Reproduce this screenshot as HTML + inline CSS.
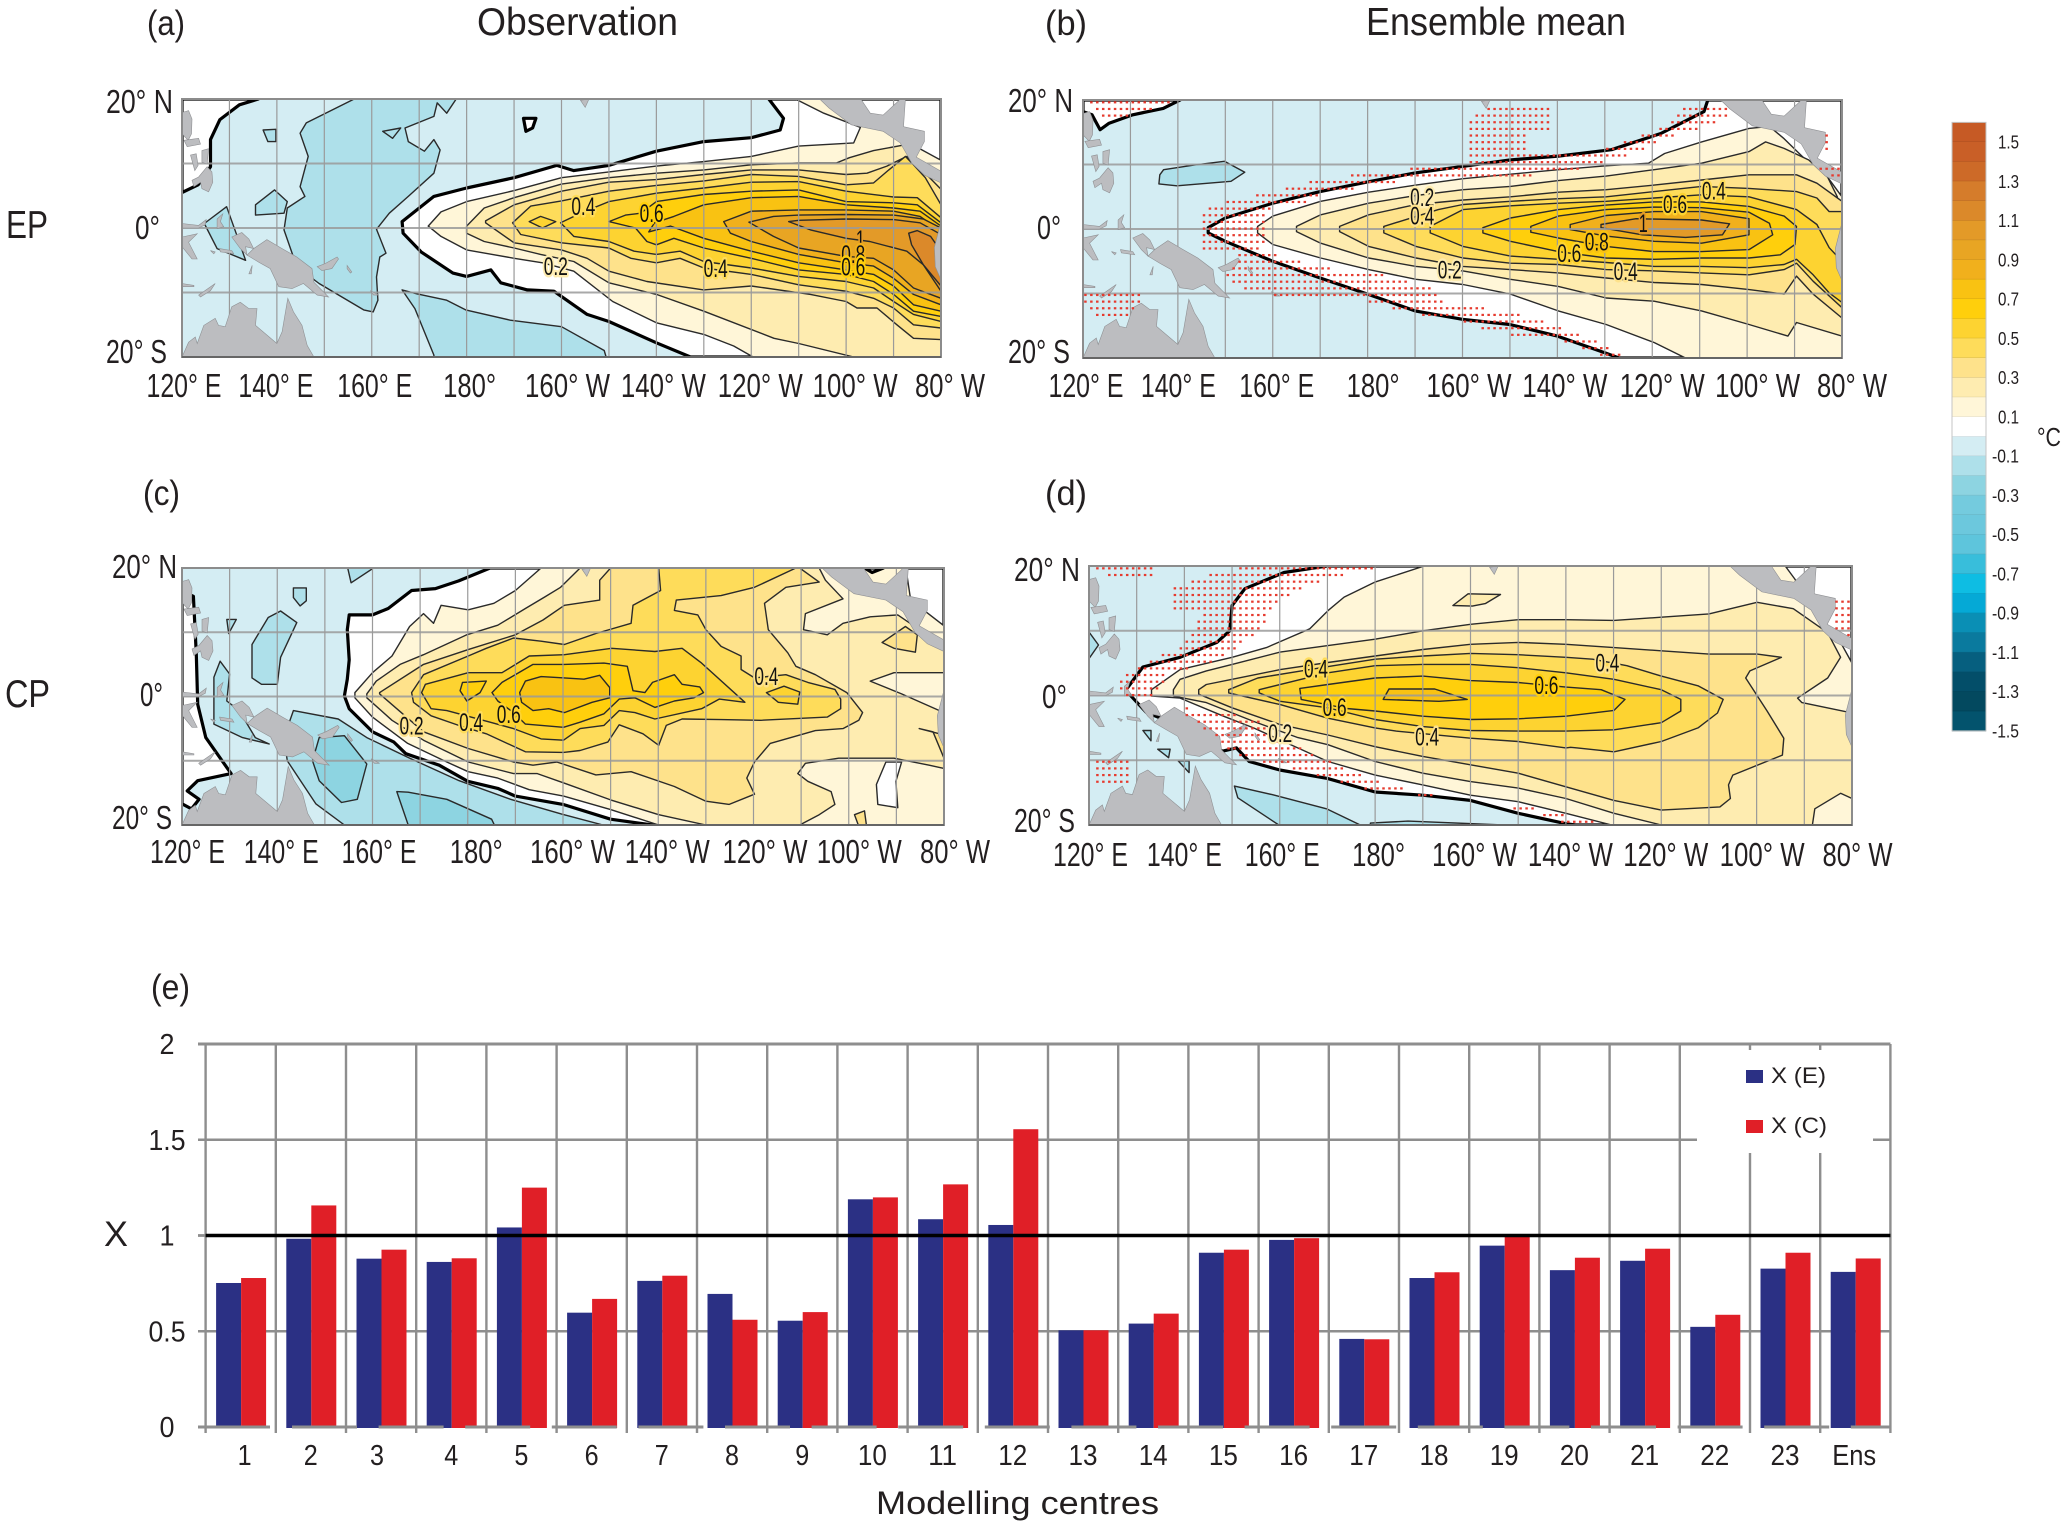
<!DOCTYPE html>
<html lang="en">
<head>
<meta charset="utf-8">
<title>EP and CP SST composites</title>
<style>
html,body{margin:0;padding:0;background:#fff}
svg{display:block}
text{font-family:"Liberation Sans",sans-serif;fill:#231f20}
</style>
</head>
<body>
<svg id="fig" xmlns="http://www.w3.org/2000/svg" width="2067" height="1526" viewBox="0 0 2067 1526">
<rect width="2067" height="1526" fill="#fff"/>
<text x="147" y="35" font-size="35" textLength="38" lengthAdjust="spacingAndGlyphs">(a)</text>
<text x="1045" y="35" font-size="35" textLength="42" lengthAdjust="spacingAndGlyphs">(b)</text>
<text x="143" y="505" font-size="35" textLength="37" lengthAdjust="spacingAndGlyphs">(c)</text>
<text x="1045" y="505" font-size="35" textLength="42" lengthAdjust="spacingAndGlyphs">(d)</text>
<text x="151" y="999" font-size="35" textLength="39" lengthAdjust="spacingAndGlyphs">(e)</text>
<text x="477" y="35" font-size="39" textLength="201" lengthAdjust="spacingAndGlyphs">Observation</text>
<text x="1366" y="35" font-size="39" textLength="260" lengthAdjust="spacingAndGlyphs">Ensemble mean</text>
<text x="6" y="238" font-size="39" textLength="42" lengthAdjust="spacingAndGlyphs">EP</text>
<text x="5" y="707" font-size="39" textLength="45" lengthAdjust="spacingAndGlyphs">CP</text>
<text x="2037" y="446" font-size="26" textLength="24" lengthAdjust="spacingAndGlyphs">°C</text>
<text x="104" y="1246" font-size="35" textLength="24" lengthAdjust="spacingAndGlyphs">X</text>
<text x="876" y="1514" font-size="32" textLength="283" lengthAdjust="spacingAndGlyphs">Modelling centres</text>
<g id="maps"></g>
<g id="bar"></g>
<g id="cbar"></g>
</svg>
<script>
/* ---------- colour scale ---------- */
const bandLower=[1.5,1.4,1.3,1.2,1.1,1.0,0.9,0.8,0.7,0.6,0.5,0.4,0.3,0.2,0.1,0,-0.1,-0.2,-0.3,-0.4,-0.5,-0.6,-0.7,-0.8,-0.9,-1.0,-1.1,-1.2,-1.3,-1.4,-1.5];
const bandColors=['#c65a25','#c95f27','#cd6a28','#d57c2b','#db892a','#e39a28','#e8a523','#f1b01c','#f9c212','#ffcf0c','#fdd331','#fedc5a','#fee28b','#feecb0','#fff6d8','#ffffff','#d4edf3','#aee0ea','#8dd4e1','#74cbde','#6cc8dd','#5ec5dc','#38bedb','#0ebde3','#05a9d6','#0a8fb5','#0a7a9e','#065f7f','#034e69','#03495f','#03536d'];
const colorbarTicks=['1.5','1.3','1.1','0.9','0.7','0.5','0.3','0.1','-0.1','-0.3','-0.5','-0.7','-0.9','-1.1','-1.3','-1.5'];

/* ---------- land (lon, lat) ---------- */
const landNewGuinea=[[135.1,-3.2],[137.9,-1.8],[141.1,-3.2],[144.2,-4.5],[147.4,-6.3],[147.8,-8.4],[150.9,-10.7],[148.5,-10.4],[145.6,-8.6],[143.2,-9.4],[140.4,-9.1],[138.6,-6.3],[136.2,-5.3],[133.7,-4.2]];
const landBirdsHead=[[130.5,-1.4],[132.6,-0.7],[134.1,-1.7],[135.1,-3.2],[133.4,-2.9],[133.7,-4.2],[132.3,-3.2]];
const landAustralia=[[120,-20],[121.4,-17.7],[122.8,-16.9],[123.2,-17.9],[124.6,-15.1],[127,-14],[127.7,-15.1],[129.1,-15.3],[130.5,-12.2],[132.3,-11.5],[134.1,-12.5],[135.8,-12.5],[135.5,-15.1],[140,-17.9],[141.1,-16.1],[142.3,-10.9],[143.5,-13],[145.3,-15.1],[146.4,-18.2],[147.8,-20]];
const landLuzon=[[120,17.9],[121.4,18.2],[122.1,16.9],[122,14.6],[121.3,13.6],[120,14.6]];
const landMindoro=[[120.4,13.6],[123.5,13.9],[123.9,13],[121.1,12.6]];
const landPanay=[[121.8,11.3],[123,11.5],[123.4,9.7],[122.7,8.9]];
const landSamar=[[124.2,12],[125.6,12.3],[125.3,9.9],[124.2,10.2]];
const landMindanao=[[122.1,7.4],[123.5,7.9],[125.3,9.5],[126.3,8.7],[126.5,7.1],[125.6,5.6],[124.2,6.1],[123.9,7.1],[122.5,6.4]];
const landSulawesiNorth=[[120,0.7],[123.5,0.4],[125.1,1.3],[124.9,0.5],[123.5,0],[120,0]];
const landSulawesiSouth=[[120,-1.4],[123.2,-0.9],[121.4,-2.2],[123.2,-4.8],[122.1,-4.8],[120,-2.9]];
const landHalmahera=[[127.4,1.4],[128.6,2.2],[128.1,1],[128.8,0.2],[127.4,-0.1]];
const landCeram=[[127.9,-3.2],[130.5,-3.5],[130.9,-4],[128.1,-3.7]];
const landBuru=[[126,-3.5],[127,-3.7],[126.7,-4]];
const landNewBritain=[[148.5,-6],[150.2,-5.5],[152.7,-4.5],[153,-4.8],[151.6,-6.3],[149.5,-6.6]];
const landTimor=[[123.5,-10.4],[127,-8.6],[126,-9.7],[123.9,-10.7]];
const landFlores=[[120,-8.6],[122.5,-8.9],[122.5,-9.1],[120,-9.1]];
const landAru=[[134.1,-7.1],[134.8,-5.8],[134.6,-7.1]];
const landBougainville=[[154.8,-5.8],[155.8,-6.8],[155.5,-7],[154.8,-6.3]];
const landGuadalcanal=[[159.7,-9.7],[161.5,-10.4],[160.4,-10.4]];
const landHawaii=[[204,19.8],[205.8,20],[205,18.7]];
const landCentralAmerica=[[254.4,20],[263.1,20],[265.1,17.8],[267.8,17.5],[270.9,19.6],[271.4,20],[272.5,20],[272.1,15.7],[276.5,15],[276.5,13.4],[274.8,11],[280,8.8],[280,7],[276.5,8.2],[273.9,10],[271.4,13.2],[267.8,15],[261.1,16],[256.4,18.6]];
const landSouthAmerica=[[280,1],[278.6,-3],[278.8,-6],[280,-8]];
const landMasses=[landNewGuinea,landBirdsHead,landAustralia,landLuzon,landMindoro,landPanay,landSamar,landMindanao,landSulawesiNorth,landSulawesiSouth,landHalmahera,landCeram,landBuru,landNewBritain,landTimor,landFlores,landAru,landBougainville,landGuadalcanal,landHawaii,landCentralAmerica,landSouthAmerica];

/* ---------- panel (a) contours (lon, lat) ---------- */
const a_blue1=[[156.3,20],[146.2,16.3],[144.9,14.7],[146.6,11.1],[144.9,6.4],[145.9,4.9],[142.2,3.1],[141.5,-0.3],[144.2,-6],[148.9,-8.6],[158.3,-12.7],[160.3,-13],[161.3,-11.2],[161,-7.6],[161.7,-4.5],[163,-3.9],[161,-0.2],[163.7,2.3],[167.7,4.9],[173.1,8.5],[174.4,12.1],[173.1,13.7],[171.1,11.9],[167.7,13.4],[167,15.5],[173.1,17.3],[173.8,19.4],[175.8,17.8],[177.8,20]];
const a_blue2=[[135.5,3.6],[139.5,5.9],[142.2,4.1],[141.5,2.3],[135.5,2]];
const a_blue3=[[124.7,0.7],[129.4,3.3],[131.4,-0.8],[133.4,-5],[127.4,-3.2]];
const a_blue4=[[137.1,15.2],[139.8,15.3],[139.8,13.4],[138.1,13.4]];
const a_blue5=[[162.3,15],[166.1,15.5],[164.4,13.9]];
const a_blue6=[[166.4,-9.6],[169.1,-12.5],[173.1,-19.7],[173.1,-20],[209.4,-20],[209,-19],[200,-15.3],[189.2,-14.3],[179.8,-12.7],[175.8,-11.2],[169.5,-10.2]];
const a_white1=[[120,20],[136.1,20],[132.1,19.1],[128,16.8],[126,13.7],[126,9.5],[123.4,6.7],[120,5.5]];
const a_white2=[[192,17],[194.6,17],[193.9,15.5],[192.5,15]];
const a_c0=[[243.7,20],[246.8,17],[246.1,15.2],[240,14],[230,13.4],[220,11.9],[210,9.7],[202.6,8.9],[199,9.7],[190,7.8],[180,6.2],[173.1,4.9],[166.4,1],[166.6,-0.8],[170.4,-3.7],[177.1,-7],[180,-7.5],[185.1,-6.5],[187.2,-8.5],[192.8,-9.6],[198.4,-9.8],[205.4,-13.4],[210,-14.5],[220,-17.8],[227.2,-20],[280,-20],[280,20]];
const a_c1=[[249.3,20],[255.3,17.8],[263,15.6],[261.6,13.2],[250,12.7],[240,11.1],[230,10.3],[220,9.6],[210,8.7],[200,7.8],[190,5.8],[180,4.1],[174.6,2.5],[171.9,0.3],[174.6,-1.3],[180,-3.4],[190,-4.7],[196,-5.4],[202.6,-6.7],[210.8,-11.4],[220,-14.7],[230,-16.5],[236.3,-18.3],[240.4,-20],[280,-20],[280,10.5],[275,12.5],[268,15],[258,20]];
const a_c2=[[272.4,12.9],[265.8,12],[260.7,10.9],[258,10.1],[250,10.1],[240,9.8],[230,9],[220,8.5],[210,7.8],[200,6.8],[190,4.7],[183.7,3.1],[180,0.3],[180,-0.8],[183.7,-2.1],[190,-3.1],[195.6,-4.1],[202.6,-5.2],[210,-8.5],[220,-10.3],[230,-12.9],[244.8,-17.1],[250,-17.9],[261.6,-20],[280,-20],[280,7.5],[274,10.5]];
const a_c3=[[272.8,11.1],[268.6,9.6],[264.4,8.5],[260,8.3],[250,9],[240,9],[230,8.3],[220,7.5],[210,7.1],[200,5.7],[190,3.6],[184,1.1],[184,0.8],[190,-2.3],[200,-3.4],[205.4,-4.7],[210,-6.7],[218,-8.3],[230,-9.6],[240,-9],[252.5,-10.3],[260,-11.4],[262.3,-12.4],[266.5,-12.4],[270.7,-15],[274.2,-17.1],[280,-17.3],[280,6],[276,9]];
const a_c4=[[280,3.6],[276.7,7.8],[274.2,9.8],[272.5,11.1],[269,9],[265.8,7],[260,6.7],[250,8],[240,8.3],[230,7.3],[220,6.6],[210,5.7],[200,4.2],[193.5,3.4],[189.7,0.8],[191.4,-1],[200,-2.3],[210,-3.1],[214.6,-4.7],[220,-5.4],[225,-4.7],[230,-6.2],[240,-7.2],[250,-8.8],[260,-9.8],[265.8,-10.9],[270,-12.4],[274.2,-15],[280,-15.5]];
const a_c5=[[280,1.6],[275,4.7],[270,4.8],[260,5.7],[250,7.2],[240,7.1],[230,6.2],[220,5.4],[210,4.1],[204,2.3],[199.8,0.8],[202.6,-1.3],[210,-2.1],[215.3,-3.6],[220,-4.1],[225,-3.6],[230,-5.2],[240,-6.2],[250,-7.5],[260,-8.3],[265.8,-9.3],[270,-11.4],[274.2,-13.4],[280,-14.5]];
const a_c5b=[[193.2,1],[195.6,1.8],[198.8,1],[196,0]];
const a_c6=[[280,0.8],[275,3.6],[270,3.9],[260,4.1],[250,5.9],[240,5.7],[230,5.2],[220,4.1],[216.7,2.3],[213.5,2],[210,1],[215.6,0],[218,-2.1],[220,-2.6],[223.7,-1.6],[230,-3.1],[240,-4.7],[250,-6.5],[260,-7.2],[265.8,-8.3],[270,-10.3],[274.2,-12.9],[280,-13.7]];
const a_c7=[[280,0.3],[275.6,2.6],[270,3.1],[260,3.6],[250,4.9],[240,4.7],[230,3.6],[223.7,1.8],[219.6,0.8],[218.4,-0.6],[223,0.3],[230,-1.6],[240,-3.6],[250,-5.4],[260,-6.5],[265.8,-7.2],[270,-9],[274.2,-11.9],[280,-12.9]];
const a_c8=[[280,-0.5],[275.6,1.8],[270,2.6],[260,2.8],[250,2.8],[240,2.6],[234.2,1],[235.6,-0.8],[240,-2.1],[250,-4.1],[260,-5.4],[265.8,-5.9],[270,-7.8],[274.2,-10.3],[280,-11.9]];
const a_c9=[[280,0],[276.3,1.4],[270,2],[260,2.1],[250,2],[244.7,1.8],[239.5,0.9],[244.7,-1.3],[250,-3.1],[260,-4.4],[265.8,-4.7],[270,-6.5],[274.2,-9.3],[280,-10.9]];
const a_c10=[[280,-1],[275.6,0.8],[270,1.3],[260,1.4],[250,1.2],[247.9,1],[252.5,-0.3],[260,-1.6],[265,-2.1],[272.8,-3.6],[276.3,-5.7],[280,-9.8]];
const a_c11=[[273.2,-0.8],[275,-0.4],[277.8,-1.3],[280,-3.6],[280,-9],[276.3,-5.7],[273.8,-2.6]];
const panelAContours=[[-0.2,a_blue1],[-0.2,a_blue2],[-0.2,a_blue3],[-0.2,a_blue4],[-0.2,a_blue5],[-0.2,a_blue6],[0,a_white1],[0,a_white2],[0,a_c0],[0.1,a_c1],[0.2,a_c2],[0.3,a_c3],[0.4,a_c4],[0.5,a_c5],[0.5,a_c5b],[0.6,a_c6],[0.7,a_c7],[0.8,a_c8],[0.9,a_c9],[1.0,a_c10],[1.1,a_c11]];
const panelALabels=[['0.4',204.6,3.4,0.4],['0.6',219,2.3,0.6],['1',263,-1.7,1.0],['0.8',261.5,-4,0.8],['0.6',261.5,-6,0.6],['0.2',198.8,-5.9,0.2],['0.4',232.5,-6.2,0.4]];

/* ---------- panel (b) contours ---------- */
const b_blue1=[[136.2,8.4],[137,9.2],[143.4,9.9],[149.8,10.5],[154.1,8.8],[151.2,7.4],[139.8,6.7],[136,7]];
const b_white1=[[120,20],[140.5,20],[136.9,18.7],[130.5,17.7],[125.5,16.4],[123.6,15.4],[121.9,17.7],[120,18.2]];
const b_c0=[[251.7,20],[250.9,18.2],[241.8,14.8],[231.4,12.3],[220.2,11.3],[210,10.7],[200,9.7],[190,8.7],[180,7.3],[170,5.8],[160,4],[150,1.7],[146.4,0.2],[146.4,-0.6],[150,-1.9],[160,-5],[170,-7.6],[180,-10.1],[190,-12.7],[200,-14],[210,-14.8],[220,-16.6],[230,-19.2],[233,-20],[280,-20],[280,20]];
const b_c1=[[267.8,14],[264.7,15.9],[260.4,15.6],[250.4,13.5],[242.6,11.7],[239.2,10.2],[230.3,9.8],[220.2,9.2],[210.1,8.5],[200.1,7.8],[190.2,6.8],[180.2,5.7],[170.1,4.3],[160,2],[156.8,0.4],[156.8,-0.6],[160,-2.4],[170.1,-4.5],[180.2,-6.3],[190.2,-7.8],[200.1,-8.6],[210.1,-10.1],[220.2,-12.7],[230.3,-14.8],[240.4,-17.6],[247,-20],[280,-20],[280,5],[277,8],[272,11]];
const b_c2=[[273,10.7],[267.8,12.5],[263.9,13.5],[260.4,12],[250.4,10.2],[240.4,9.2],[230.3,8.2],[220.2,7.5],[210.1,6.6],[200.1,6.1],[190.2,5.2],[180.2,4],[170.1,2.2],[165,0.4],[165,-0.4],[170.1,-2.2],[180.2,-4.5],[190.2,-5.8],[200.1,-6.5],[210.1,-7.8],[220.2,-8.9],[230.3,-10.7],[240.4,-11.2],[250.4,-12.7],[260.4,-14.8],[268.6,-16.6],[270.4,-14.5],[280,-16.6],[280,0],[279,5],[277,8]];
const b_c3=[[280,4.3],[274.7,7.1],[270.4,8.4],[260.4,8.4],[250.4,7.6],[240.4,6.8],[230.3,6.1],[220.2,5.7],[210.1,5],[200.1,4.5],[190.2,3.8],[180.2,2.2],[174.1,0.4],[174.1,-0.4],[180.2,-2.7],[190.2,-4.5],[200.1,-5.8],[210.1,-6.3],[220.2,-6.8],[230.3,-7.6],[240.4,-8.3],[250.4,-8.6],[260.4,-9.4],[267.8,-10.1],[270.4,-7.3],[273.9,-10.1],[280,-13.8]];
const b_c4=[[277.3,2.7],[274.7,4.8],[270.4,5.8],[260.4,6.3],[250.4,6.6],[240.4,5.8],[230.3,5],[220.2,4.7],[210.1,4.3],[200.1,3.8],[194.9,3],[183.4,0.4],[183.4,-0.6],[190.2,-2.7],[200.1,-4.5],[210.1,-5.3],[220.2,-5.5],[230.3,-6.3],[240.4,-6.5],[250.4,-6.8],[260.4,-7.1],[267.8,-6.3],[270.4,-5.3],[273.9,-8.1],[280,-12.2],[280,2.7]];
const b_c5=[[277.3,-2.9],[274.7,0.7],[270.4,3],[260.4,5],[250.4,5.3],[240.4,4.8],[230.3,4.3],[220.2,4],[210.1,3.6],[200.1,3],[193.2,0.4],[193.2,-0.6],[200.1,-2.7],[210.1,-4.2],[220.2,-4.7],[230.3,-5.2],[240.4,-5.8],[250.4,-5.8],[260.4,-6],[267.8,-5.5],[270.4,-4.7],[273.9,-7.1],[277.3,-9.9],[280,-11.4],[280,-5]];
const b_c6=[[204.3,0.2],[210.1,1.7],[220.2,3],[230.3,3.7],[240.4,4.2],[250.4,4.2],[260.4,3.5],[267.8,2],[270.4,0.4],[270.1,-2.4],[267,-4],[260.4,-4.5],[250.4,-4.5],[240.4,-4.7],[230.3,-4.5],[220.2,-3.5],[210.1,-1.9],[204.3,-0.6]];
const b_c7=[[214.4,0.4],[220.2,2],[230.3,3],[240.4,3.4],[250.4,3.3],[260.4,2.6],[264.7,0.9],[265.4,-0.9],[260.4,-3.2],[250.4,-3.5],[240.4,-3.5],[230.3,-2.7],[220.2,-1.4],[214.4,-0.5]];
const b_c8=[[222.7,0.7],[230.3,2.1],[240.4,2.7],[250.4,2.7],[260.4,1.6],[260.4,-0.9],[250.4,-2.2],[240.4,-1.9],[230.3,-1.1],[222.7,-0.1]];
const b_c9=[[229.2,0.7],[236.6,1.6],[250.4,1.4],[256.3,0.8],[254.8,-0.9],[247,-1.3],[237.9,-0.9],[229.2,0.2]];
const panelBContours=[[-0.2,b_blue1],[0,b_white1],[0,b_c0],[0.1,b_c1],[0.2,b_c2],[0.3,b_c3],[0.4,b_c4],[0.5,b_c5],[0.6,b_c6],[0.7,b_c7],[0.8,b_c8],[1.0,b_c9]];
const panelBLabels=[['0.2',191.5,5,0.2],['0.4',191.5,2.1,0.3],['0.6',244.8,3.9,0.5],['0.4',253,6,0.4],['1',238.1,0.9,1.0],['0.8',228.3,-1.9,0.7],['0.6',222.5,-3.7,0.5],['0.4',234.4,-6.5,0.3],['0.2',197.3,-6.3,0.2]];
const panelBStippleNorth=[[144.6,2.5],[149.8,4.3],[155,5],[162,6.1],[167.2,7.3],[173.2,8.1],[188,9.2],[190.6,10],[201,10.2],[201,14.3],[201.9,17.1],[205.3,19],[218.3,19],[219.2,15.6],[213.1,14.3],[213.1,12.3],[220.9,12.1],[234,12],[233.1,11],[227,9.9],[221.8,8.8],[204.5,7.5],[188,7.5],[179.3,6.6],[170.6,5.3],[165.4,3.8],[158.5,3],[158.5,-2.9],[155,-3.5],[144.6,-3.5]];
const panelBStippleNorthEast=[[227,11.7],[235.7,14.1],[242.6,16.1],[247,19.2],[256.5,19.2],[256.5,17.7],[251.3,15.9],[242.6,14.1],[239.2,12.5],[231.4,10.7],[227,10.7]];
const panelBStippleSouth=[[153.3,-3.7],[161.1,-4],[170.6,-6],[182.8,-7.1],[188.9,-8.1],[193.2,-9.1],[196.7,-11.9],[203.6,-12.2],[215.7,-13.8],[220.1,-15],[227.9,-17.1],[233.9,-19.7],[230.5,-20],[220.9,-17.4],[207.1,-16.1],[197.5,-13.8],[187.1,-13],[180.2,-11.2],[164.6,-11.2],[153.3,-9.1],[149.8,-7.1]];
const panelBStippleSouthWest=[[120.4,-9.9],[132.6,-9.9],[132.6,-11.4],[128.2,-14],[124,-14.3],[120.4,-11.4]];
const panelBStippleNorthWest=[[120.9,20],[140.5,20],[136.9,19],[125.5,16.7],[124,17.7]];
const panelBStippleEast=[[274.7,10.5],[279.9,9.2],[279.9,7.4],[275.6,8.9]];
const panelBStippleGulf=[[276.5,14.6],[277.8,14.6],[277.8,12],[276.5,12]];
const panelBStipple=[panelBStippleNorth,panelBStippleNorthEast,panelBStippleSouth,panelBStippleSouthWest,panelBStippleNorthWest,panelBStippleEast,panelBStippleGulf];

/* ---------- panel (c) contours ---------- */
const c_blue1=[[134.7,8.1],[138.1,12.3],[140.7,13.3],[144.1,11.5],[140.7,6.1],[140,1.9],[136.7,1.9],[134.7,2.9]];
const c_blue2=[[128,5.5],[130,3.5],[129.4,-0.7],[132,-2.2],[135.4,-6.4],[138.3,-7.4],[132.7,-6.4],[126.7,-4.3],[126.7,3]];
const c_blue3=[[143.4,16.9],[146.1,16.9],[146.1,14.9],[144.8,14.1],[143.4,15.4]];
const c_blue4=[[129.4,12],[131.4,12],[129.8,9.8]];
const c_blue5=[[154.8,20],[160.2,20],[155.5,17.7]];
const c_blue6=[[143.4,-2.2],[152.8,-3.5],[158.8,-6.4],[167.5,-9.5],[178.2,-13.1],[189,-16],[199.7,-18.3],[208.4,-20],[154.1,-20],[148.1,-16.7],[142.1,-10],[141.4,-6.4]];
const c_deep1=[[147.4,-10],[148.8,-6.4],[154.1,-6.1],[158.8,-10.5],[156.8,-16],[153.5,-16.5],[148.8,-13.1]];
const c_deep2=[[165.1,-14.8],[167.5,-14.9],[175.6,-16],[185,-19.1],[185.6,-20],[167.5,-20]];
const c_white1=[[120,16.4],[122.4,15.6],[123,6.6],[123.3,-1.2],[125,-6.4],[130.3,-12],[123.3,-13.1],[121.1,-14.7],[123.6,-16],[122,-17.5],[120,-16.7]];
const c_c0=[[184.7,20],[178.1,18],[173.2,16.8],[168.2,16.5],[163.3,13.7],[160,12.7],[155.1,12.7],[154.7,10.4],[155.1,5.7],[154.7,2.7],[154.1,0.1],[155.1,-1.9],[160,-5.5],[164.5,-7.1],[167,-8.9],[174,-10.7],[180,-13.2],[186.3,-14.3],[190,-15.5],[200,-16.8],[210,-19.1],[218.8,-20],[280,-20],[280,20]];
const c_c1=[[195.4,20],[190,16.5],[185.5,14.5],[180.1,13.5],[174.4,14.2],[172.8,11.4],[170.7,12.9],[167.8,10.9],[164.1,6.3],[160,3.7],[156.3,0.6],[156.3,-0.2],[160,-3.2],[167.4,-7.3],[175.6,-10.2],[180.1,-11.7],[186.3,-12.7],[192.9,-14.5],[200.1,-15.5],[210,-17.6],[220.1,-20],[280,-20],[280,11],[273,15],[272,20]];
const c_c2=[[203.6,20],[199.5,17],[196.2,15.5],[192.1,13.7],[186.3,11.1],[179.8,9.6],[170.7,6.5],[165.8,5],[160.8,2.4],[158.8,0.4],[158.8,-0.2],[164.1,-3.7],[170.7,-6.8],[180.1,-10.2],[189.6,-12],[194.6,-12],[200.3,-13.5],[210,-16.1],[220.1,-18.4],[230,-20],[249.7,-20],[253.8,-18.4],[257.1,-16.8],[256.3,-14.8],[251.4,-13.2],[249.3,-12],[250.9,-10.4],[257.9,-9.6],[269.5,-9.6],[276.9,-10.7],[280,-11.2],[280,-2.5],[271.1,0.4],[264.5,2.4],[269.5,3.7],[280,3.7],[280,7.8],[270.3,12.7],[264.5,12.4],[258.8,11.4],[255.5,9.6],[250.5,10.4],[250.9,12.9],[258.8,15.2],[255.1,18.1],[253.8,20]];
const c_c3=[[210,20],[207.7,18.1],[207.7,15],[200.3,14.2],[195.8,11.9],[190,9.6],[180.1,7.3],[170.7,5],[161.5,0.6],[161.5,0.4],[170.7,-5.5],[180.1,-8.1],[189.6,-10.2],[193.7,-10.7],[198.7,-10.2],[206.9,-12.2],[214.3,-11.7],[223.4,-14],[230,-16.3],[234.9,-16.8],[240.2,-15.2],[238.6,-12.7],[240.2,-10.2],[243.5,-7.3],[253,-5.3],[258.8,-5],[262.1,-3.7],[262.9,-2.5],[259.6,0.6],[253,3.4],[248.9,4.7],[247.2,6.8],[243.1,10.4],[242.3,14.5],[246.8,17],[253.8,17.8],[249.7,20]];
const c_c3b=[[267,8.4],[271.9,10.9],[274.4,9.6],[274,6.9],[269.5,7.5]];
const c_c3c=[[274.8,-5],[277.7,-5.5],[280,-9.6],[280,-6]];
const c_c3d=[[261.2,-18.4],[263.3,-17.8],[263.7,-20],[262,-20]];
const c_white2=[[267.8,-10.2],[271.1,-10.2],[269.9,-13.2],[270.3,-17.3],[266.1,-16.8],[265.8,-13.7]];
const c_gulf=[[263.3,20],[264.9,19.3],[267.3,20]];
const c_c4=[[220.1,20],[220.5,16.5],[214.7,14.2],[214.3,11.4],[206.9,9.8],[200.3,8.1],[195.4,8.6],[189.6,9.1],[183.9,7.5],[180.1,6.3],[170.7,3.4],[168.2,0.6],[168.6,-0.9],[172.3,-3],[178.1,-4.5],[183.9,-5.8],[192.1,-8.6],[200.1,-8.7],[203.6,-8.4],[209.4,-7.1],[211.8,-4.4],[216.8,-5.8],[220.1,-7.6],[221.7,-4.5],[225,-3.5],[233.2,-3.6],[241.5,-3.7],[255.5,-3.2],[258.3,-1.9],[258.3,-0.4],[257.1,1.1],[251.4,2.2],[246.8,3.4],[240.2,2.9],[237.4,4.2],[237.4,6.3],[233.2,7.8],[230,10.4],[228.3,12.7],[223.4,13.4],[223.8,15],[233.2,15.7],[240.2,17],[248.9,20]];
const c_c5=[[170.3,0.6],[171.1,1.9],[180.1,3.7],[187.2,3.7],[192.9,6.3],[200.3,6.5],[210.2,7.5],[219.3,7],[225,7.5],[229.1,5.2],[238.2,-0.9],[232.8,-0.4],[229.1,-1.9],[219.3,-3.5],[215.1,-2.5],[211.8,-2.2],[208.6,-4.5],[203.6,-5],[200.1,-6.8],[195.4,-6.6],[189.6,-5],[184.7,-4],[175.6,-2.2],[172.3,-1.9]];
const c_c5b=[[242.7,0.6],[246.4,1.6],[249.7,0.7],[249.3,-1.2],[245.2,-0.9]];
const c_c6=[[185.1,0.6],[187.2,2.2],[193.7,5],[200.3,5],[208.6,5.2],[213.5,4.7],[214.7,0.9],[217.2,0.6],[218.8,2.2],[223.4,3.4],[225,1.9],[228.7,1.5],[229.5,0.6],[227.5,-0.2],[223.4,-0.7],[219.3,-1.7],[215.1,-0.2],[211.8,-0.4],[208.6,-2.7],[203.6,-4],[200.1,-4.8],[192.1,-4.3],[189.6,-2.5],[186.3,-0.7]];
const c_c6b=[[178.9,2.2],[183.9,2.4],[182.6,0.6],[179.8,-0.7],[178.4,0.9]];
const c_c7=[[190.9,0.6],[192.1,2.4],[195.4,3.1],[200.3,2.9],[204.4,2.7],[207.7,3.3],[209.8,1.4],[209.8,-0.2],[206.1,-0.9],[200.3,-2.5],[197,-1.9],[193.7,-2.2],[191.3,-0.9]];
const panelCContours=[[-0.2,c_blue1],[-0.2,c_blue2],[-0.2,c_blue3],[-0.2,c_blue4],[-0.2,c_blue5],[-0.2,c_blue6],[-0.3,c_deep1],[-0.3,c_deep2],[0,c_white1],[0,c_c0],[0.1,c_c1],[0.2,c_c2],[0.3,c_c3],[0.3,c_c3b],[0.3,c_c3c],[0.3,c_c3d],[0,c_white2,'thin'],[0,c_gulf],[0.4,c_c4],[0.5,c_c5],[0.5,c_c5b],[0.6,c_c6],[0.6,c_c6b],[0.7,c_c7]];
const panelCLabels=[['0.2',168.2,-4.5,0.3],['0.4',180.7,-4,0.4],['0.6',188.6,-2.7,0.5],['0.4',242.7,3.2,0.3]];

/* ---------- panel (d) contours ---------- */
const d_blue1=[[150.5,-14],[158.4,-15.3],[169.8,-17.5],[176.9,-20],[159.8,-20],[151.2,-15.8]];
const d_blue2=[[179,-19.7],[186.9,-19.4],[206.9,-20],[179,-20]];
const d_blue3=[[131.3,-5.4],[133,-5.4],[133,-7]];
const d_blue4=[[134.4,-8.3],[137,-8.3],[136.7,-9.6]];
const d_blue5=[[138.7,-10.1],[141,-10.1],[141,-11.9]];
const d_blue6=[[120,9.8],[122,7.8],[120,5.7]];
const d_c0=[[169.9,20],[160.9,19],[152.7,16.5],[150,13.9],[149.5,10],[146.8,8.2],[139.1,5.9],[131.3,4.4],[127.7,0.8],[132,-2.6],[140,-5],[148,-8.6],[150.9,-8.1],[153.6,-10.2],[160,-11.5],[170,-12.8],[180,-14.9],[190,-15.4],[200,-16.2],[210,-18.2],[220,-19.8],[222,-20],[280,-20],[280,20]];
const d_c1=[[190.3,20],[179.9,17.5],[173.5,15.2],[170.1,13.1],[166.3,10.3],[157.2,7.4],[150,5.9],[139.1,4],[133.1,0.9],[133.1,-0.1],[139.1,-0.4],[148.2,-3.2],[154.5,-5],[170.1,-10.2],[180,-12.3],[190,-13.8],[200,-15.4],[210,-16.4],[220,-18.2],[229.6,-20],[280,-20],[280,5],[277,9],[272,13],[268,18],[266,20]];
const d_c2=[[260.1,14.4],[250,12.6],[240,12.1],[230.1,11.6],[220,11.7],[210,11.7],[200,11],[190,10],[180,8.7],[170.1,7.7],[160.1,6.7],[150,4.8],[144.6,3.8],[139.1,2.5],[137.7,0.9],[137.7,-0.1],[144.6,-1.1],[154.5,-4],[163.8,-6.5],[170.1,-7.6],[180,-10.2],[190,-12],[200,-13.3],[210,-14.3],[220,-15.9],[230.1,-18.2],[240,-20],[271.7,-20],[272.2,-17.5],[277.6,-15.1],[280,-15.9],[280,-2.7],[269.5,-1.1],[268.6,-0.4],[274.9,2.7],[277.6,5.9],[274.9,9.7],[267.7,13.4]];
const d_c2b=[[196.3,13.9],[199.5,15.7],[206.3,15.6],[203.1,14.2],[200.4,13.8]];
const d_c3=[[260.1,6.4],[250,6.4],[240,6.9],[230.1,7.4],[220,7.9],[210,8.2],[200,7.9],[190,7.1],[180,6.1],[170.1,5.1],[160.1,4],[150,2.5],[144.6,1.7],[143,0.9],[143,0.2],[150,-1.9],[160.1,-4.5],[170.1,-6.1],[180,-7.9],[190,-9.4],[200,-10.7],[210,-12],[220,-14.1],[230.1,-16.2],[240,-17.7],[252.3,-17.2],[254.5,-15.9],[254.1,-13.8],[255,-12.3],[265.4,-9.2],[265.7,-6.6],[262.2,-2.4],[257.7,2.7],[258.6,3.8],[265.2,5.9]];
const d_c4=[[149.3,0.9],[155.4,2.7],[164.5,3.8],[171.3,4.6],[180,5.6],[190,6.1],[200,6.5],[210,6.3],[220,5.9],[225.6,5.6],[232.8,4.6],[240,3],[247.7,1.5],[253,-0.6],[251.8,-2.7],[247.7,-5],[240,-7.1],[230.1,-8.7],[222.4,-8.1],[221,-8],[220,-8.1],[210,-7.1],[200,-6.6],[184.4,-5.5],[180,-5],[170.1,-3.5],[160.1,-1.4],[149.3,0.4]];
const d_c5=[[155.7,0.9],[164.5,2.5],[170.1,3.5],[180,4.6],[190,4.8],[200,4.8],[210,4.3],[220,3.5],[230.1,2.5],[240,0.9],[244.1,-0.6],[244.1,-2.4],[240,-4.2],[230.1,-5.3],[220,-5.5],[210,-5.5],[200,-5.4],[190,-4.8],[180,-3.7],[170.1,-1.9],[160.1,-0.9],[155.7,0.4]];
const d_c6=[[164.2,1.1],[170.1,1.7],[180,2.7],[190,3],[200,2.3],[210,2],[220,1.3],[227.4,0.9],[232.4,-0.6],[230.1,-2.3],[220,-3.2],[210,-3.6],[200,-3.7],[190,-3.2],[180,-2.4],[174,-2],[164.5,-0.6]];
const d_c7=[[182.9,1],[192.5,1],[199.3,-0.6],[193.4,-0.9],[181.7,-0.6]];
const panelDContours=[[-0.2,d_blue1],[-0.2,d_blue2],[-0.2,d_blue3],[-0.2,d_blue4],[-0.2,d_blue5],[-0.2,d_blue6],[0,d_c0],[0.1,d_c1],[0.2,d_c2],[0.2,d_c2b],[0.3,d_c3],[0.4,d_c4],[0.5,d_c5],[0.6,d_c6],[0.7,d_c7]];
const panelDLabels=[['0.4',167.6,4.2,0.4],['0.4',228.7,5.1,0.3],['0.6',215.9,1.6,0.6],['0.6',171.5,-1.8,0.5],['0.4',190.9,-6.3,0.3],['0.2',160.1,-5.8,0.2]];
const panelDStippleCorner=[[120.6,20],[134,20],[133.4,18.4],[124,18.4]];
const panelDStippleNorth=[[155.5,20],[185.5,20],[176.9,19.4],[168.4,17.6],[163.4,16.1],[158.4,13.5],[155.5,9.8],[151.2,7.3],[144.1,4.7],[136.3,3.1],[134.8,1],[133.4,-0.5],[127.7,-0.5],[125.6,2.3],[132.7,5.4],[137.7,7],[141.3,8.8],[143.4,12.4],[137.7,13.5],[137.7,16.6],[145.5,18.7],[151.2,19.7]];
const panelDStippleSouth=[[139.1,-1.8],[148.4,-2.6],[156.2,-4.1],[161.2,-7],[171.2,-10.4],[181.2,-13.5],[195.5,-15.8],[211.2,-17.1],[224,-19.2],[229.7,-20],[221.1,-20],[212.6,-18.1],[201.2,-16.3],[179.8,-14.8],[169.8,-12.7],[151.2,-9.3],[148.4,-7.8],[140.5,-3.1]];
const panelDStippleSouthWest=[[120.6,-9.3],[129.1,-9.3],[129.1,-14],[120.6,-14]];
const panelDStippleEast=[[276,15.5],[279.6,14.5],[279.6,8.8],[276,10.4]];
const panelDStipple=[panelDStippleCorner,panelDStippleNorth,panelDStippleSouth,panelDStippleSouthWest,panelDStippleEast];

/* ---------- map axes ---------- */
const lonTicks=[120,140,160,180,200,220,240,260,280];
const lonTickLabels=['120° E','140° E','160° E','180°','160° W','140° W','120° W','100° W','80° W'];
const latTicks=[20,0,-20];
const latTickLabels=['20° N','0°','20° S'];
const lonGrid=[130,140,150,160,170,180,190,200,210,220,230,240,250,260,270];
const latGrid=[10,0,-10];

/* ---------- bar chart data ---------- */
const centres=['1','2','3','4','5','6','7','8','9','10','11','12','13','14','15','16','17','18','19','20','21','22','23','Ens'];
const xEValues=[0.752,0.983,0.879,0.862,1.042,0.597,0.763,0.695,0.555,1.189,1.085,1.055,0.505,0.54,0.91,0.977,0.46,0.778,0.947,0.819,0.868,0.523,0.827,0.81];
const xCValues=[0.778,1.157,0.926,0.881,1.25,0.669,0.79,0.56,0.6,1.199,1.267,1.555,0.505,0.592,0.926,0.986,0.458,0.808,0.998,0.884,0.931,0.586,0.91,0.88];
const yTicks=[0,0.5,1,1.5,2];
const yTickLabels=['0','0.5','1','1.5','2'];

const NS='http://www.w3.org/2000/svg';
function mk(parent,tag,attrs){
  const el=document.createElementNS(NS,tag);
  for(const k in attrs){el.setAttribute(k,attrs[k]);}
  parent.appendChild(el);
  return el;
}
function fillOf(level){
  const i=bandLower.findIndex(v=>Math.abs(v-level)<0.001);
  return bandColors[i];
}
function inPoly(lon,lat,poly){
  let inside=false;
  for(let i=0,j=poly.length-1;i<poly.length;j=i++){
    const a=poly[i],b=poly[j];
    if((a[1]>lat)!==(b[1]>lat)&&lon<(b[0]-a[0])*(lat-a[1])/(b[1]-a[1])+a[0]){inside=!inside;}
  }
  return inside;
}

function drawPanel(cfg){
  const root=mk(document.getElementById('maps'),'g',{});
  
  
  const x=lon=>cfg.x0+(lon-120)/160*(cfg.x1-cfg.x0);
  const y=lat=>cfg.y0+(20-lat)/40*(cfg.y1-cfg.y0);
  const pts=a=>a.map(p=>x(p[0]).toFixed(1)+','+y(p[1]).toFixed(1)).join(' ');

  const clip=mk(root,'clipPath',{id:'clip-'+cfg.id});
  
  
  mk(clip,'rect',{x:cfg.x0,y:cfg.y0,width:cfg.x1-cfg.x0,height:cfg.y1-cfg.y0});
  const g=mk(root,'g',{'clip-path':'url(#clip-'+cfg.id+')'});
  
  

  const base=mk(g,'rect',{x:cfg.x0,y:cfg.y0,width:cfg.x1-cfg.x0,height:cfg.y1-cfg.y0,fill:fillOf(-0.1)});
  
  

  cfg.contours.forEach(c=>{
    const thick=c[0]===0&&!c[2];
    const poly=mk(g,'polygon',{points:pts(c[1]),fill:fillOf(c[0]),stroke:thick?'#000':'#2a2a2a','stroke-width':thick?3.2:1.4,'stroke-linejoin':'round'});
    
    
  });
  lonGrid.forEach(v=>{
    const l=mk(g,'line',{x1:x(v),x2:x(v),y1:cfg.y0,y2:cfg.y1,stroke:'#9a9a9a','stroke-width':1.2});
    
    
  });
  latGrid.forEach(v=>{
    const l=mk(g,'line',{x1:cfg.x0,x2:cfg.x1,y1:y(v),y2:y(v),stroke:'#9a9a9a','stroke-width':2,'stroke-opacity':0.85});
    
    
  });
  landMasses.forEach(a=>{
    const p=mk(g,'polygon',{points:pts(a),fill:'#bcbdc0',stroke:'#8f9093','stroke-width':0.6});
    
    
  });
  if(cfg.stipple){
    for(let lat=-19.5;lat<=20;lat+=1.03){
      for(let lon=120.5;lon<280;lon+=1.25){
        if(cfg.stipple.some(r=>inPoly(lon,lat,r))){
          const d=mk(g,'rect',{x:x(lon)-1.2,y:y(lat)-1.1,width:2.5,height:2.2,fill:'#e63a2e'});
          
          
        }
      }
    }
  }
  cfg.labels.forEach(l=>{
    const w=l[0].length===1?9:24;
    const t=mk(g,'text',{x:x(l[1]),y:y(l[2])+9,'font-size':25,'text-anchor':'middle',textLength:w,lengthAdjust:'spacingAndGlyphs',stroke:fillOf(l[3]),'stroke-width':5,'paint-order':'stroke','stroke-linejoin':'round',style:'fill:#111'});
    t.textContent=l[0];
    
    
  });
  const frame=mk(root,'rect',{x:cfg.x0,y:cfg.y0,width:cfg.x1-cfg.x0,height:cfg.y1-cfg.y0,fill:'none',stroke:'#8c8c8c','stroke-width':2});
  
  
  const bottom=mk(root,'line',{x1:cfg.x0,x2:cfg.x1,y1:cfg.y1,y2:cfg.y1,stroke:'#666','stroke-width':2});
  
  

  lonTicks.forEach((v,i)=>{
    const s=lonTickLabels[i];
    const w=s==='180°'?53:(s==='80° W'?70:(s.endsWith('E')?75:85));
    const t=mk(root,'text',{x:x(v)+cfg.nudge[i],y:cfg.xBase,'font-size':33,'text-anchor':'middle',textLength:w,lengthAdjust:'spacingAndGlyphs'});
    t.textContent=s;
    
    
  });
  latTicks.forEach((v,i)=>{
    const t=mk(root,'text',{x:cfg.yx[i],y:cfg.yb[i],'font-size':33,textLength:cfg.yw[i],lengthAdjust:'spacingAndGlyphs'});
    t.textContent=latTickLabels[i];
    
    
  });
}

drawPanel({id:'a',x0:182,x1:941,y0:99,y1:357,contours:panelAContours,labels:panelALabels,stipple:null,xBase:397,nudge:[2,-1,3,3,6,7,9,9,9],yx:[106,135,106],yb:[113,239,363],yw:[67,25,61]});
drawPanel({id:'b',x0:1083,x1:1842,y0:100,y1:358,contours:panelBContours,labels:panelBLabels,stipple:panelBStipple,xBase:397,nudge:[3,0.5,4,5.5,6.5,7.5,10,10.5,10],yx:[1008,1037,1008],yb:[112,239,363],yw:[65,24,62]});
drawPanel({id:'c',x0:182,x1:944,y0:568,y1:825,contours:panelCContours,labels:panelCLabels,stipple:null,xBase:863,nudge:[5.5,4,6.5,8.5,9.5,9,11.5,10.5,11],yx:[112,140,112],yb:[578,706,829],yw:[65,23,60]});
drawPanel({id:'d',x0:1089,x1:1852,y0:566,y1:825,contours:panelDContours,labels:panelDLabels,stipple:panelDStipple,xBase:866,nudge:[1.5,0,2.5,3.5,4,4.5,4.5,5.5,5.5],yx:[1014,1042,1014],yb:[581,708,832],yw:[66,25,61]});

/* ---------- colour bar ---------- */
(function(){
  const g=document.getElementById('cbar');
  const yBar=v=>142+(1.5-v)*196.3;
  bandLower.forEach((v,i)=>{
    const r=mk(g,'rect',{x:1952,y:yBar(v+0.1),width:34,height:yBar(v)-yBar(v+0.1)+0.5,fill:bandColors[i]});
    
    
    const s=mk(g,'line',{x1:1952,x2:1986,y1:yBar(v),y2:yBar(v),stroke:'#000','stroke-opacity':0.14,'stroke-width':1});
    
    
  });
  const b=mk(g,'rect',{x:1952,y:yBar(1.6),width:34,height:yBar(-1.5)-yBar(1.6),fill:'none',stroke:'#c4c4c4','stroke-width':1});
  
  
  colorbarTicks.forEach(s=>{
    const t=mk(g,'text',{x:2019,y:yBar(parseFloat(s))+6.5,'font-size':18,'text-anchor':'end',textLength:s.length===3?21:27,lengthAdjust:'spacingAndGlyphs'});
    t.textContent=s;
    
    
  });
})();

/* ---------- bar chart ---------- */
(function(){
  const g=document.getElementById('bar');
  const left=205.6,step=70.2,right=left+step*centres.length;
  const y=v=>1427-v*191.5;
  const x=i=>left+step*i;
  const grey='#8e8e8e';
  for(let i=0;i<=centres.length;i++){
    const l=mk(g,'line',{x1:x(i),x2:x(i),y1:y(2),y2:1433,stroke:grey,'stroke-width':2.4});
    
    
  }
  yTicks.forEach((v,i)=>{
    if(v>0){
      const l=mk(g,'line',{x1:198,x2:right,y1:y(v),y2:y(v),stroke:grey,'stroke-width':v===2?3:2.6});
      
      
    }
    const w=yTickLabels[i].length===3?37:15;
    const t=mk(g,'text',{x:167,y:y(v)+10,'font-size':29,'text-anchor':'middle',textLength:w,lengthAdjust:'spacingAndGlyphs'});
    t.textContent=yTickLabels[i];
    
    
  });
  const box=mk(g,'rect',{x:1697,y:1050,width:176,height:103,fill:'#fff'});
  
  
  centres.forEach((c,i)=>{
    const be=mk(g,'rect',{x:x(i)+10.5,y:y(xEValues[i]),width:25,height:y(0)-y(xEValues[i])+1,fill:'#2b3084'});
    
    
    const bc=mk(g,'rect',{x:x(i)+35.5,y:y(xCValues[i]),width:25,height:y(0)-y(xCValues[i])+1,fill:'#e01f27'});
    
    
    const w=c==='Ens'?44:(c.length===2?29:14);
    const shift=c==='Ens'?-1:(c==='1'?4:(c==='3'?-4:0));
    const t=mk(g,'text',{x:x(i)+35+shift,y:1465,'font-size':29,'text-anchor':'middle',textLength:w,lengthAdjust:'spacingAndGlyphs'});
    t.textContent=c;
    
    
  });
  const refTick=mk(g,'line',{x1:198,x2:left,y1:y(1),y2:y(1),stroke:grey,'stroke-width':2.6});
  
  
  const ref=mk(g,'line',{x1:left,x2:right,y1:y(1),y2:y(1),stroke:'#000','stroke-width':3.4});
  
  
  const a0=mk(g,'line',{x1:198,x2:270,y1:y(0),y2:y(0),stroke:grey,'stroke-width':3});
  
  
  const a1=mk(g,'line',{x1:292,x2:right,y1:y(0),y2:y(0),stroke:grey,'stroke-width':3,'stroke-dasharray':'65 21.6'});
  
  
  const k1=mk(g,'rect',{x:1746,y:1070,width:17,height:13,fill:'#2b3084'});
  
  
  const k2=mk(g,'rect',{x:1746,y:1120,width:17,height:13,fill:'#e01f27'});
  
  
  const t1=mk(g,'text',{x:1771,y:1083,'font-size':22,textLength:55,lengthAdjust:'spacingAndGlyphs'});
  t1.textContent='X (E)';
  
  
  const t2=mk(g,'text',{x:1771,y:1133,'font-size':22,textLength:56,lengthAdjust:'spacingAndGlyphs'});
  t2.textContent='X (C)';
  
  
})();
</script>
</body>
</html>
